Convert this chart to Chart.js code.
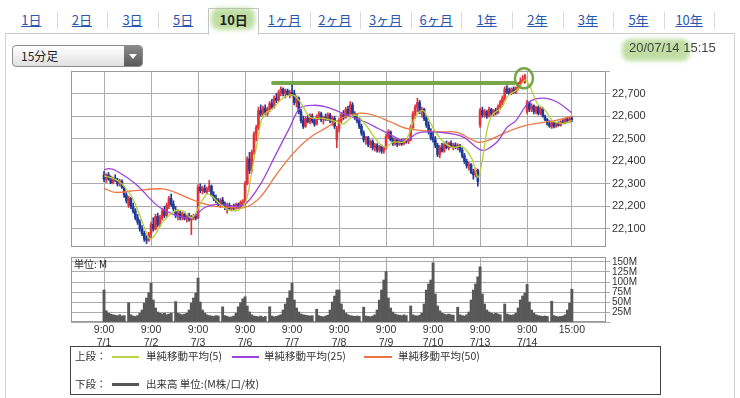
<!DOCTYPE html>
<html lang="ja">
<head>
<meta charset="utf-8">
<title>10日 15分足</title>
<script src="https://cdn.jsdelivr.net/npm/chart.js@4.4.1/dist/chart.umd.min.js"></script>
<style>
  html, body { margin: 0; padding: 0; }
  body {
    width: 740px; height: 398px; position: relative; overflow: hidden;
    background: #fff; color: #333;
    font-family: "Liberation Sans", Arial, sans-serif;
  }
  .jp { font-family: "Noto Sans CJK JP", "Noto Sans", sans-serif; }
  #panel { position: absolute; left: 5px; top: 33px; width: 728px; height: 380px; border: 1px solid #d2d2d2; }
  .tab { position: absolute; top: 11px; width: 50.6px; height: 18px; line-height: 18px; text-align: center;
         font-size: 13px; color: #2857b0; text-decoration: underline; z-index: 3; }
  .tab.on { color: #222; font-weight: bold; text-decoration: none; }
  .sep { position: absolute; top: 12px; width: 1px; height: 17px; background: #dadada; }
  #tabOn { position: absolute; top: 8px; height: 26px; background: #fff; border: 1px solid #c6c6c6; border-bottom: none; z-index: 1; }
  .marker { position: absolute; background: rgba(140, 195, 90, 0.55); filter: blur(2px); border-radius: 8px; z-index: 2; }
  #select { position: absolute; left: 12px; top: 45px; width: 129px; height: 20px; border: 1px solid #8d8d8d; border-radius: 4px;
            background: linear-gradient(#ffffff, #e0e0e0); }
  #select span { position: absolute; left: 8px; top: 0; line-height: 20px; font-size: 12px; color: #222; }
  #select b { position: absolute; right: 0; top: 0; width: 18px; height: 20px; background: linear-gradient(#8a8a8a, #5a5a5a); border-radius: 0 3px 3px 0; }
  #select b::after { content: ''; position: absolute; left: 5px; top: 8px; border-left: 4px solid transparent; border-right: 4px solid transparent; border-top: 5px solid #fff; }
  #stamp { position: absolute; left: 629px; top: 40px; font-size: 13px; color: #444; z-index: 3; }
  #priceBox { position: absolute; left: 61px; top: 61px; }
  #volBox { position: absolute; left: 61px; top: 247px; }
  #unit { position: absolute; left: 74px; top: 256px; font-size: 10px; color: #222; }
  #legend { position: absolute; left: 70px; top: 346px; width: 589px; height: 47px; border: 1px solid #444; font-size: 10.5px; color: #333; }
  .lg { position: absolute; white-space: nowrap; line-height: 14px; }
  .sw { position: absolute; height: 2px; }
</style>
</head>
<body>
<div id="panel"></div>
<div id="select" class="jp"><span>15分足</span><b></b></div>
<div class="marker" style="left:622px; top:39px; width:68px; height:22px;"></div>
<div id="stamp">20/07/14 15:15</div>

<div id="priceBox"><canvas id="price" width="605" height="196"></canvas></div>
<div id="volBox"><canvas id="volume" width="605" height="102"></canvas></div>
<div id="unit" class="jp">単位: M</div>

<div id="legend" class="jp">
  <div class="lg" style="left:4px; top:2px;">上段：</div>
  <div class="sw" style="left:41px; top:9px; width:27px; background:#b9d449;"></div>
  <div class="lg" style="left:75px; top:2px;">単純移動平均(5)</div>
  <div class="sw" style="left:161px; top:9px; width:27px; background:#9b45dd;"></div>
  <div class="lg" style="left:193px; top:2px;">単純移動平均(25)</div>
  <div class="sw" style="left:293px; top:9px; width:28px; background:#ee7440;"></div>
  <div class="lg" style="left:327px; top:2px;">単純移動平均(50)</div>
  <div class="lg" style="left:4px; top:30px;">下段：</div>
  <div class="sw" style="left:41px; top:36px; width:27px; height:3px; background:#555;"></div>
  <div class="lg" style="left:75px; top:30px;">出来高 単位:(M株/口/枚)</div>
</div>

<script>
// 期間タブ
const tabNames = ['1日', '2日', '3日', '5日', '10日', '1ヶ月', '2ヶ月', '3ヶ月', '6ヶ月', '1年', '2年', '3年', '5年', '10年'];
const selectedTab = 4;

// 横軸: 各日の 9:00 の足の位置と最後の 15:00
const dayTicks = [0, 21, 42, 63, 84, 105, 126, 147, 168, 189, 209];
const timeLabels = ['9:00', '9:00', '9:00', '9:00', '9:00', '9:00', '9:00', '9:00', '9:00', '9:00', '15:00'];
const dateLabels = ['7/1', '7/2', '7/3', '7/6', '7/7', '7/8', '7/9', '7/10', '7/13', '7/14', ''];
const xMin = -14.75, xMax = 224.25;

const priceTicks = [22100, 22200, 22300, 22400, 22500, 22600, 22700, 22800];
const priceMin = 22020, priceMax = 22800;
const volumeTicks = [0, 25, 50, 75, 100, 125, 150];
const volumeMax = 162.5;

// 15分足 [始値, 高値, 安値, 終値]
const c0701 = [
  [22340,22355,22310,22320],[22320,22345,22305,22340],[22340,22350,22315,22322],[22322,22335,22300,22305],
  [22305,22330,22300,22325],[22325,22340,22310,22315],[22315,22325,22290,22300],[22300,22320,22290,22312],
  [22312,22318,22280,22285],[22285,22290,22240,22250],[22250,22260,22215,22225],[22205,22245,22195,22235],
  [22235,22240,22190,22200],[22200,22215,22170,22180],[22180,22190,22140,22150],[22150,22165,22120,22130],
  [22130,22140,22090,22100],[22100,22115,22070,22080],[22080,22090,22045,22055],[22055,22070,22035,22050],
  [22050,22085,22045,22078]
];
const c0702 = [
  [22080,22130,22060,22120],[22120,22150,22090,22100],[22100,22165,22095,22155],[22155,22170,22110,22120],
  [22120,22160,22110,22150],[22150,22190,22140,22180],[22180,22200,22150,22160],[22160,22215,22155,22205],
  [22205,22245,22190,22235],[22235,22255,22200,22210],[22210,22225,22180,22190],[22175,22200,22150,22160],
  [22160,22185,22140,22170],[22170,22180,22140,22150],[22150,22175,22140,22165],[22165,22175,22140,22145],
  [22145,22165,22130,22160],[22160,22170,22135,22140],[22140,22160,22075,22150],[22150,22165,22140,22155],
  [22155,22165,22140,22148]
];
const c0703 = [
  [22150,22295,22145,22285],[22285,22300,22260,22270],[22270,22290,22255,22280],[22280,22295,22260,22265],
  [22265,22285,22255,22275],[22275,22315,22265,22290],[22290,22295,22245,22250],[22250,22265,22225,22235],
  [22235,22250,22215,22225],[22225,22235,22200,22210],[22205,22235,22195,22228],[22228,22240,22205,22210],
  [22210,22220,22185,22195],[22195,22215,22170,22205],[22205,22215,22185,22190],[22190,22205,22180,22198],
  [22198,22210,22185,22192],[22192,22215,22188,22208],[22208,22215,22190,22195],[22195,22225,22190,22218],
  [22218,22230,22200,22222]
];
const c0706 = [
  [22215,22310,22205,22300],[22300,22420,22295,22410],[22410,22440,22345,22360],[22360,22450,22350,22440],
  [22440,22530,22430,22520],[22520,22560,22490,22550],[22550,22640,22540,22625],[22625,22650,22600,22610],
  [22610,22645,22595,22635],[22635,22650,22605,22612],[22610,22640,22600,22630],[22630,22665,22620,22655],
  [22655,22675,22630,22640],[22640,22690,22635,22680],[22680,22700,22660,22670],[22670,22715,22665,22705],
  [22705,22730,22690,22720],[22720,22725,22690,22700],[22700,22720,22680,22712],[22712,22720,22690,22695],
  [22695,22715,22680,22705]
];
const c0707 = [
  [22705,22740,22690,22700],[22700,22715,22650,22660],[22660,22690,22640,22680],[22680,22685,22610,22620],
  [22620,22630,22570,22580],[22580,22600,22545,22555],[22555,22600,22550,22590],[22590,22605,22570,22575],
  [22575,22610,22565,22600],[22600,22610,22570,22580],[22580,22590,22555,22565],[22565,22605,22560,22598],
  [22598,22620,22585,22610],[22610,22618,22575,22585],[22585,22600,22565,22595],[22595,22610,22580,22588],
  [22588,22615,22580,22605],[22605,22612,22570,22578],[22578,22600,22560,22590],[22590,22600,22545,22555],
  [22495,22555,22460,22545]
];
const c0708 = [
  [22545,22590,22530,22580],[22580,22615,22570,22605],[22605,22625,22585,22595],[22595,22640,22590,22630],
  [22630,22645,22600,22610],[22610,22665,22605,22650],[22650,22660,22600,22610],[22610,22620,22585,22595],
  [22595,22610,22570,22580],[22580,22590,22545,22555],[22555,22565,22515,22525],[22525,22535,22485,22495],
  [22495,22510,22475,22505],[22505,22510,22465,22475],[22475,22495,22460,22488],[22488,22495,22450,22460],
  [22460,22480,22445,22472],[22472,22478,22440,22450],[22450,22470,22440,22465],[22465,22472,22435,22445],
  [22445,22465,22435,22460]
];
const c0709 = [
  [22460,22520,22455,22510],[22510,22540,22500,22530],[22530,22535,22490,22495],[22495,22505,22470,22480],
  [22480,22500,22470,22495],[22495,22500,22465,22475],[22475,22495,22470,22490],[22490,22498,22470,22478],
  [22478,22500,22472,22492],[22492,22500,22480,22488],[22488,22500,22478,22495],[22495,22560,22490,22550],
  [22550,22620,22545,22610],[22610,22650,22590,22640],[22640,22680,22620,22660],[22660,22670,22610,22620],
  [22620,22640,22595,22630],[22630,22635,22580,22590],[22590,22600,22550,22560],[22560,22575,22520,22530],
  [22530,22545,22495,22505]
];
const c0710 = [
  [22505,22530,22485,22495],[22495,22510,22460,22470],[22470,22480,22420,22430],[22430,22470,22415,22460],
  [22460,22480,22440,22445],[22445,22485,22440,22475],[22475,22490,22455,22460],[22460,22485,22450,22480],
  [22480,22490,22460,22465],[22465,22480,22450,22472],[22472,22482,22455,22460],[22460,22478,22450,22470],
  [22470,22475,22440,22450],[22450,22460,22415,22425],[22425,22435,22390,22400],[22400,22410,22370,22380],
  [22380,22395,22360,22385],[22385,22390,22345,22350],[22350,22365,22320,22340],[22340,22370,22330,22360],
  [22360,22365,22290,22310]
];
const c0713 = [
  [22560,22635,22550,22625],[22625,22640,22595,22605],[22605,22630,22595,22620],[22620,22625,22590,22600],
  [22600,22640,22595,22630],[22630,22635,22600,22610],[22610,22630,22600,22625],[22625,22635,22605,22615],
  [22615,22650,22610,22640],[22640,22670,22630,22660],[22660,22690,22650,22680],[22680,22730,22670,22720],
  [22720,22735,22700,22710],[22710,22725,22695,22700],[22700,22725,22695,22720],[22720,22730,22700,22705],
  [22705,22730,22700,22725],[22725,22750,22715,22745],[22745,22770,22735,22755],[22755,22780,22748,22760],
  [22750,22785,22745,22778]
];
const c0714 = [
  [22620,22670,22610,22660],[22660,22665,22620,22630],[22630,22655,22620,22645],[22645,22650,22610,22620],
  [22620,22645,22610,22638],[22638,22645,22605,22612],[22612,22640,22605,22632],[22632,22638,22595,22600],
  [22600,22605,22580,22585],[22585,22590,22560,22565],[22565,22580,22550,22555],[22555,22575,22545,22570],
  [22570,22575,22548,22555],[22555,22572,22550,22568],[22568,22575,22555,22560],[22560,22580,22555,22575],
  [22575,22585,22565,22570],[22570,22590,22565,22585],[22585,22595,22570,22578],[22578,22595,22572,22590],
  [22590,22598,22575,22585]
];

// 出来高 (M)
const v0701 = [80,28,22,20,18,17,16,18,15,16,0,48,18,15,14,16,22,30,47,60,73];
const v0702 = [97,55,35,25,22,20,22,18,20,22,0,51,22,20,18,20,22,30,47,60,72];
const v0703 = [110,50,30,22,18,16,15,14,16,15,0,38,16,14,12,13,15,22,38,48,58];
const v0706 = [63,40,25,18,15,14,13,15,12,14,0,38,15,13,14,16,18,30,45,60,78];
const v0707 = [97,55,35,25,20,18,17,16,15,16,0,32,16,14,13,15,17,30,50,65,80];
const v0708 = [80,45,30,22,18,16,15,14,15,14,0,37,15,14,13,15,18,30,55,80,105];
const v0709 = [126,60,35,25,20,18,17,16,18,16,0,40,18,16,15,17,22,45,80,95,105];
const v0710 = [148,70,40,28,22,20,18,20,18,17,0,37,18,16,15,18,25,55,80,95,113];
const v0713 = [138,70,45,30,25,22,20,22,20,18,0,45,20,18,17,18,22,35,55,65,72];
const v0714 = [94,50,30,22,18,16,15,14,15,14,0,52,16,14,13,14,15,18,30,47,82];

// 移動平均 [足の位置, 値]
const ma5 = [
  [0,22335],[5,22320],[8,22300],[12.5,22240],[16,22160],[18.3,22100],[20.6,22055],[23.2,22080],[25.9,22127],
  [31.7,22180],[34.9,22180],[39.3,22150],[43.8,22225],[46.5,22255],[52.7,22203],[57.2,22180],[61.7,22195],
  [63.9,22240],[66.1,22360],[68.4,22480],[71,22600],[75.5,22635],[80,22680],[84.5,22693],[88.5,22650],
  [92,22595],[97.9,22590],[104.1,22575],[106.8,22565],[112.2,22605],[116.6,22565],[122.4,22485],[125.6,22462],
  [129.1,22485],[133.6,22485],[135.8,22510],[139,22595],[142.5,22625],[146.6,22555],[151,22492],[155.5,22462],
  [160,22465],[164.4,22410],[167.1,22330],[168.9,22400],[171.1,22537],[173.4,22605],[177.8,22640],[180.5,22690],
  [185,22720],[188.1,22760],[190.3,22730],[193.5,22657],[197,22627],[200.2,22582],[204.6,22568],[209,22580]
];
const ma25 = [
  [0,22362],[2,22367],[5,22360],[14,22300],[23,22210],[27.5,22180],[33,22158],[39,22150],[45,22195],
  [51,22210],[57,22200],[63,22210],[70,22300],[77,22435],[83,22550],[87.5,22635],[93.5,22648],[99.5,22640],
  [108.5,22605],[116.5,22575],[122.5,22545],[128.5,22515],[134.5,22490],[140,22525],[146.5,22530],[154.5,22523],
  [161,22505],[166.5,22460],[169,22448],[171,22452],[176,22490],[180,22550],[184,22580],[188,22640],
  [191,22670],[196.5,22680],[202,22665],[209,22615]
];
const ma50 = [
  [0,22280],[5,22262],[14,22270],[26,22278],[31.7,22262],[40.7,22225],[48.3,22202],[57.2,22195],[63,22195],
  [69.7,22240],[77.3,22345],[84.5,22435],[92,22505],[99.6,22550],[106.8,22595],[114.4,22613],[120.2,22605],
  [127.8,22575],[135.4,22545],[150,22530],[157.7,22528],[166.7,22485],[171,22490],[180,22530],[189,22560],
  [202.4,22582],[209,22600]
];

// 手書きの高値ライン
const markLevel = 22747, markFrom = 75.5, markTo = 183.5;
const peakBar = 187.6, peakLevel = 22768;

const candles = [].concat(c0701, c0702, c0703, c0706, c0707, c0708, c0709, c0710, c0713, c0714);
const volumes = [].concat(v0701, v0702, v0703, v0706, v0707, v0708, v0709, v0710, v0713, v0714);

const upColor = '#e2323b';
const downColor = '#1f3a98';
const gridColor = '#ababab';

// タブ
tabNames.forEach((name, k) => {
  const left = 6 + 50.6 * k;
  const d = document.createElement('div');
  d.className = 'tab jp' + (k === selectedTab ? ' on' : '');
  d.style.left = left + 'px';
  d.textContent = name;
  document.body.appendChild(d);
  if (k === selectedTab) {
    const box = document.createElement('div');
    box.id = 'tabOn';
    box.style.left = left + 'px';
    box.style.width = '49px';
    document.body.appendChild(box);
    const m = document.createElement('div');
    m.className = 'marker';
    m.style.cssText = 'left:' + (left + 3) + 'px; top:8px; width:44px; height:22px;';
    document.body.appendChild(m);
  }
  if (k !== selectedTab - 1 && k !== selectedTab) {
    const s = document.createElement('div');
    s.className = 'sep';
    s.style.left = (left + 50.6) + 'px';
    document.body.appendChild(s);
  }
});
const tabLine = document.createElement('div');
tabLine.style.cssText = 'position:absolute; left:5px; top:33px; width:730px; height:1px; background:#c9c9c9;';
document.body.appendChild(tabLine);
document.getElementById('tabOn').style.zIndex = 2;

Chart.defaults.font.family = '"Liberation Sans", Arial, sans-serif';
Chart.defaults.color = '#333';

const framePlugin = {
  id: 'frame',
  beforeDatasetsDraw(chart) {
    const a = chart.chartArea, ctx = chart.ctx;
    ctx.save();
    ctx.strokeStyle = '#999';
    ctx.lineWidth = 1;
    ctx.strokeRect(a.left + 0.5, a.top + 0.5, a.right - a.left - 1, a.bottom - a.top - 1);
    ctx.restore();
  }
};

const markPlugin = {
  id: 'mark',
  afterDatasetsDraw(chart) {
    const { ctx, scales: { x, y } } = chart;
    ctx.save();
    ctx.strokeStyle = 'rgba(106,160,56,0.92)';
    ctx.lineCap = 'round';
    ctx.lineWidth = 4;
    ctx.beginPath();
    ctx.moveTo(x.getPixelForValue(markFrom), y.getPixelForValue(markLevel));
    ctx.lineTo(x.getPixelForValue(markTo), y.getPixelForValue(markLevel));
    ctx.stroke();
    ctx.lineWidth = 2.5;
    ctx.beginPath();
    ctx.ellipse(x.getPixelForValue(peakBar), y.getPixelForValue(peakLevel), 9, 10, 0, 0, Math.PI * 2);
    ctx.stroke();
    ctx.restore();
  }
};

function xScale(showLabels) {
  return {
    type: 'linear',
    min: xMin,
    max: xMax,
    offset: false,
    afterBuildTicks: s => { s.ticks = dayTicks.map(v => ({ value: v })); },
    afterFit: s => { s.height = showLabels ? 25 : 0; },
    border: { display: false },
    grid: { color: gridColor, drawTicks: false, offset: false },
    ticks: {
      display: showLabels,
      autoSkip: false,
      maxRotation: 0,
      padding: 2,
      font: { size: 10.5 },
      callback: (v, i) => [timeLabels[i], dateLabels[i]]
    }
  };
}

const colorOf = c => (c[3] >= c[0] ? upColor : downColor);

new Chart(document.getElementById('price'), {
  type: 'line',
  data: {
    datasets: [
      { label: '単純移動平均(5)', data: ma5.map(p => ({ x: p[0], y: p[1] })), borderColor: '#b3d136',
        borderWidth: 1.3, pointRadius: 0, tension: 0.35, order: 0 },
      { label: '単純移動平均(25)', data: ma25.map(p => ({ x: p[0], y: p[1] })), borderColor: '#9b45dd',
        borderWidth: 1.3, pointRadius: 0, tension: 0.35, order: 0 },
      { label: '単純移動平均(50)', data: ma50.map(p => ({ x: p[0], y: p[1] })), borderColor: '#ee7440',
        borderWidth: 1.3, pointRadius: 0, tension: 0.35, order: 0 },
      { type: 'bar', label: 'body', data: candles.map((c, i) => ({ x: i, y: [c[0], c[3]] })),
        backgroundColor: candles.map(colorOf), barThickness: 2, grouped: false, order: 1 },
      { type: 'bar', label: 'wick', data: candles.map((c, i) => ({ x: i, y: [c[2], c[1]] })),
        backgroundColor: candles.map(colorOf), barThickness: 1, grouped: false, order: 2 }
    ]
  },
  options: {
    responsive: false,
    animation: false,
    events: [],
    layout: { padding: { left: 10, top: 10, right: 0, bottom: 10 } },
    plugins: { legend: { display: false }, tooltip: { enabled: false } },
    scales: {
      x: xScale(false),
      y: {
        position: 'right',
        min: priceMin,
        max: priceMax,
        afterBuildTicks: s => { s.ticks = priceTicks.map(v => ({ value: v })); },
        afterFit: s => { s.width = 60; },
        border: { display: false },
        grid: { color: gridColor, tickLength: 4 },
        ticks: {
          padding: 2,
          autoSkip: false,
          font: { size: 11 },
          callback: v => (v === priceMax ? '' : v.toLocaleString('en-US'))
        }
      }
    }
  },
  plugins: [framePlugin, markPlugin]
});

new Chart(document.getElementById('volume'), {
  type: 'bar',
  data: {
    datasets: [
      { label: '出来高', data: volumes.map((v, i) => ({ x: i, y: v })), backgroundColor: '#585858',
        barPercentage: 1, categoryPercentage: 1, grouped: false }
    ]
  },
  options: {
    responsive: false,
    animation: false,
    events: [],
    layout: { padding: { left: 10, top: 10, right: 0, bottom: 2 } },
    plugins: { legend: { display: false }, tooltip: { enabled: false } },
    scales: {
      x: xScale(true),
      y: {
        position: 'right',
        min: 0,
        max: volumeMax,
        afterBuildTicks: s => { s.ticks = volumeTicks.map(v => ({ value: v })); },
        afterFit: s => { s.width = 60; },
        border: { display: false },
        grid: { color: gridColor, tickLength: 4 },
        ticks: {
          padding: 2,
          autoSkip: false,
          font: { size: 10 },
          callback: v => (v === 0 ? '' : v + 'M')
        }
      }
    }
  },
  plugins: [framePlugin]
});
</script>
</body>
</html>
